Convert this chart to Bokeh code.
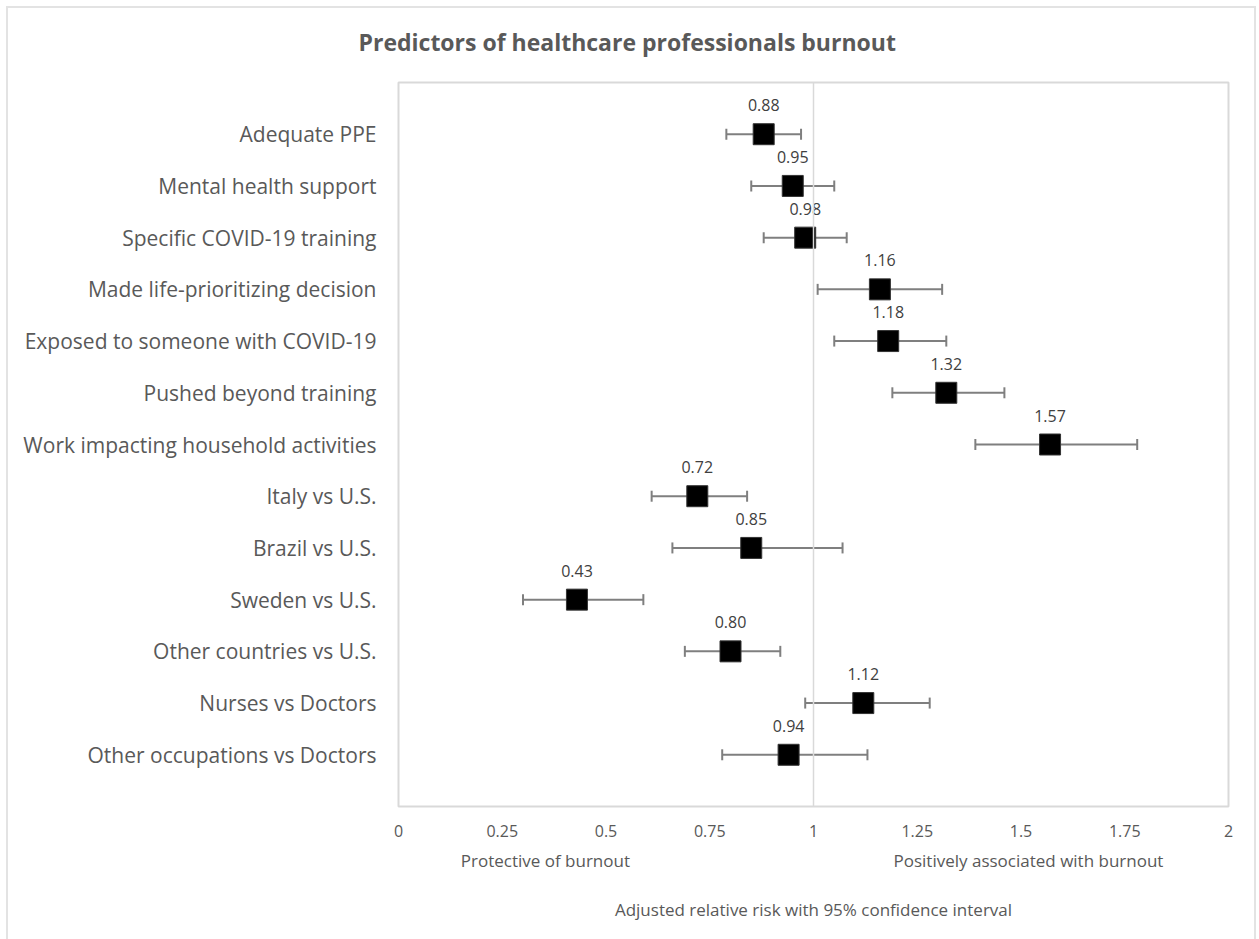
import math
from bokeh.plotting import figure
from bokeh.models import ColumnDataSource, FixedTicker, Range1d, Span, LinearAxis, Title
from bokeh.core.properties import value
from bokeh.embed import file_html
from bokeh.resources import INLINE

categories = [
    "Adequate PPE",
    "Mental health support",
    "Specific COVID-19 training",
    "Made life-prioritizing decision",
    "Exposed to someone with COVID-19",
    "Pushed beyond training",
    "Work impacting household activities",
    "Italy vs U.S.",
    "Brazil vs U.S.",
    "Sweden vs U.S.",
    "Other countries vs U.S.",
    "Nurses vs Doctors",
    "Other occupations vs Doctors",
]
rr = [0.88, 0.95, 0.98, 1.16, 1.18, 1.32, 1.57, 0.72, 0.85, 0.43, 0.80, 1.12, 0.94]
ci_low = [0.79, 0.85, 0.88, 1.01, 1.05, 1.19, 1.39, 0.61, 0.66, 0.30, 0.69, 0.98, 0.78]
ci_high = [0.97, 1.05, 1.08, 1.31, 1.32, 1.46, 1.78, 0.84, 1.07, 0.59, 0.92, 1.28, 1.13]
x_ticks = [0, 0.25, 0.5, 0.75, 1, 1.25, 1.5, 1.75, 2]
x_tick_labels = ["0", "0.25", "0.5", "0.75", "1", "1.25", "1.5", "1.75", "2"]
side_notes = ["Protective of burnout", "Positively associated with burnout"]
side_note_at = [0.354, 1.518]
title_text = "Predictors of healthcare professionals burnout"
x_title = "Adjusted relative risk with 95% confidence interval"

n = len(categories)
ypos = [n - i for i in range(n)]

src = ColumnDataSource(dict(
    y=ypos, rr=rr, lo=ci_low, hi=ci_high,
    lbl=[f"{v:.2f}" for v in rr],
))

FONT = "Open Sans"
GRAY = "#595959"
EDGE = "#e3e3e3"

p = figure(
    width=1259, height=939,
    x_range=Range1d(0, 2), y_range=Range1d(0, n + 1),
    output_backend="svg", toolbar_location=None,
    min_border_left=398, min_border_right=31, min_border_top=82, min_border_bottom=133,
)
# chart-area border drawn as page background behind a transparent canvas
p.border_fill_color = None
p.background_fill_color = "white"
p.styles = {
    "background": (
        f"linear-gradient({EDGE},{EDGE}) 6px 6px / 1250px 2px no-repeat, "
        f"linear-gradient({EDGE},{EDGE}) 6px 6px / 2px 940px no-repeat, "
        f"linear-gradient({EDGE},{EDGE}) 1254px 6px / 2px 940px no-repeat, white"
    )
}
p.outline_line_color = "#d9d9d9"
p.outline_line_width = 2
p.xgrid.visible = False
p.ygrid.visible = False

# title
p.add_layout(Title(text=title_text, align="left", offset=-40, standoff=46,
                   vertical_align="top",
                   text_font=FONT, text_font_size="23px", text_font_style="bold",
                   text_color=GRAY), "above")

# axes
p.xaxis.ticker = FixedTicker(ticks=x_ticks)
p.xaxis.major_label_overrides = {t: l for t, l in zip(x_ticks, x_tick_labels)}
p.xaxis.axis_line_color = None
p.xaxis.major_tick_line_color = None
p.xaxis.minor_tick_line_color = None
p.xaxis.major_tick_out = 0
p.xaxis.major_tick_in = 0
p.xaxis.major_label_text_font = FONT
p.xaxis.major_label_text_font_size = "16px"
p.xaxis.major_label_text_color = GRAY
p.xaxis.major_label_standoff = 18

note_axis = LinearAxis(
    ticker=FixedTicker(ticks=side_note_at),
    major_label_overrides={t: l for t, l in zip(side_note_at, side_notes)},
    axis_line_color=None, major_tick_line_color=None, minor_tick_line_color=None,
    major_tick_out=0, major_tick_in=0,
    major_label_text_font=FONT, major_label_text_font_size="17px",
    major_label_text_color=GRAY, major_label_standoff=9,
    axis_label=x_title, axis_label_text_font=FONT, axis_label_text_font_size="17px",
    axis_label_text_font_style="normal", axis_label_text_color=GRAY,
    axis_label_standoff=23,
)
p.add_layout(note_axis, "below")

p.yaxis.ticker = FixedTicker(ticks=ypos)
p.yaxis.major_label_overrides = {y: c for y, c in zip(ypos, categories)}
p.yaxis.axis_line_color = None
p.yaxis.major_tick_line_color = None
p.yaxis.minor_tick_line_color = None
p.yaxis.major_tick_out = 0
p.yaxis.major_tick_in = 0
p.yaxis.major_label_text_font = FONT
p.yaxis.major_label_text_font_size = "21px"
p.yaxis.major_label_text_color = GRAY
p.yaxis.major_label_standoff = 22

# reference line at 1
p.add_layout(Span(location=1, dimension="height", line_color="#d9d9d9", line_width=1.5))

# error bars
p.segment(x0="lo", x1="hi", y0="y", y1="y", source=src, line_color="#7f7f7f", line_width=2)
p.scatter(x="lo", y="y", source=src, marker="dash", angle=math.pi / 2, size=11,
          line_color="#7f7f7f", line_width=2)
p.scatter(x="hi", y="y", source=src, marker="dash", angle=math.pi / 2, size=11,
          line_color="#7f7f7f", line_width=2)

# point estimates
p.scatter(x="rr", y="y", source=src, marker="square", size=21,
          fill_color="black", line_color="#333333", line_width=1)

# data labels
p.text(x="rr", y="y", text="lbl", source=src, y_offset=-29,
       text_align="center", text_baseline="middle",
       text_font=value(FONT), text_font_size="16px", text_color="#404040")

open("out.html", "w").write(file_html(p, INLINE))
